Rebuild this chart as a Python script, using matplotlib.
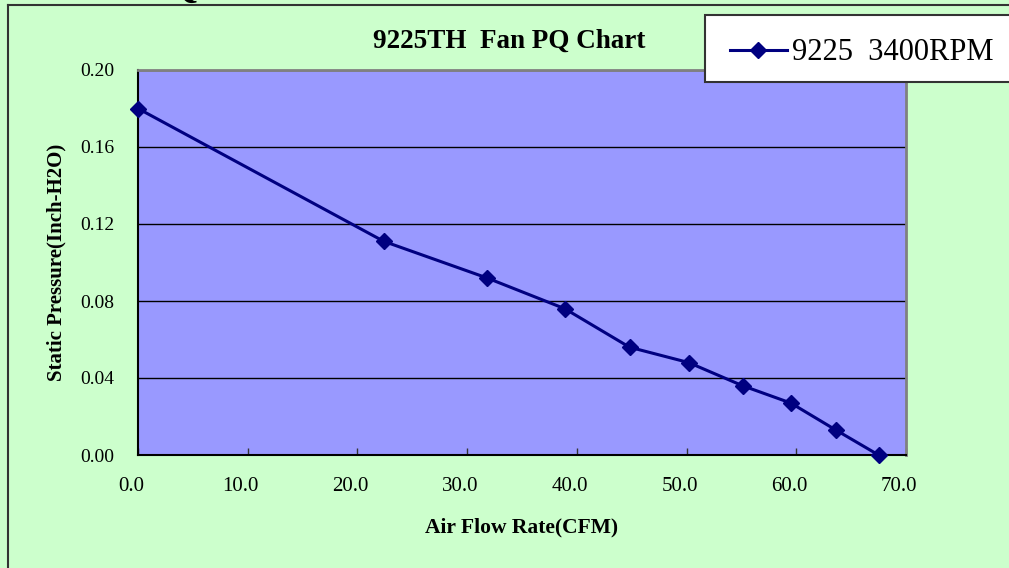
import matplotlib
matplotlib.use('Agg')
import matplotlib.pyplot as plt
import matplotlib.transforms as mtransforms
from matplotlib.lines import Line2D
from matplotlib.patches import Rectangle

# data
airflow = [0.0, 22.4, 31.8, 38.9, 44.8, 50.2, 55.1, 59.5, 63.6, 67.5]
pressure = [0.180, 0.111, 0.092, 0.076, 0.056, 0.048, 0.036, 0.027, 0.013, 0.000]
series_name = "9225  3400RPM"
title = "9225TH  Fan PQ Chart"
x_ticks = [0, 10, 20, 30, 40, 50, 60, 70]
y_ticks = [0.00, 0.04, 0.08, 0.12, 0.16, 0.20]

W, H = 1009, 568
fig = plt.figure(figsize=(W / 100, H / 100), dpi=100)
fig.patch.set_facecolor('#CCFFCC')
serif = 'Liberation Serif'

# plot area in pixel layout
left, right, top, bottom = 138, 906, 70, 455
ax = fig.add_axes([left / W, 1 - bottom / H, (right - left) / W, (bottom - top) / H])
ax.set_facecolor('#9999FF')
ax.set_xlim(0, 70)
ax.set_ylim(0, 0.2)

ax.plot(airflow, pressure, color='#000080', lw=2.2, marker='D', ms=8.5,
        markerfacecolor='#000080', markeredgecolor='#000080', clip_on=False, zorder=3)

ax.set_yticks(y_ticks)
ax.set_xticks(x_ticks)
ax.set_yticklabels([f"{v:.2f}" for v in y_ticks], fontfamily=serif, fontsize=14)
ax.set_xticklabels([f"{v:.1f}" for v in x_ticks], fontfamily=serif, fontsize=15)
ax.tick_params(axis='x', direction='in', length=5, width=1, pad=16, color='#333333')
ax.tick_params(axis='y', direction='in', length=0, pad=17)
offset = mtransforms.ScaledTranslation(-0.07, 0, fig.dpi_scale_trans)
for lbl in ax.get_xticklabels():
    lbl.set_transform(lbl.get_transform() + offset)

ax.grid(axis='y', color='black', lw=1)
ax.set_axisbelow(True)
for side in ['left', 'bottom']:
    ax.spines[side].set_color('black')
    ax.spines[side].set_linewidth(1.5)
for side in ['top', 'right']:
    ax.spines[side].set_color('#808080')
    ax.spines[side].set_linewidth(2)

ax.set_xlabel("Air Flow Rate(CFM)", fontfamily=serif, fontweight='bold', fontsize=15.5)
ax.xaxis.set_label_coords(0.5, -0.163)
ax.set_ylabel("Static Pressure(Inch-H2O)", fontfamily=serif, fontweight='bold', fontsize=15)
ax.yaxis.set_label_coords(-0.093, 0.5)

fig.text(509 / W, 1 - 41 / H, title, ha='center', va='center',
         fontfamily=serif, fontweight='bold', fontsize=19.5)

# outer chart border (cut by the image edges)
fig.add_artist(Line2D([8 / W, 8 / W], [0, 1 - 5 / H], transform=fig.transFigure,
                      color='#333333', lw=1.5))
fig.add_artist(Line2D([8 / W, 1], [1 - 5 / H, 1 - 5 / H], transform=fig.transFigure,
                      color='#333333', lw=1.5))

# piece of a heading above the chart
fig.text(182 / W, 1 + 3 / H, "Q", ha='center', va='baseline',
         fontfamily=serif, fontweight='bold', fontsize=30)

# legend box, running off the right edge
fig.add_artist(Rectangle((705 / W, 1 - 82 / H), 0.5, 67 / H, transform=fig.transFigure,
                         facecolor='white', edgecolor='#333333', lw=1.5, clip_on=False))
fig.add_artist(Line2D([730 / W, 758 / W, 787 / W], [1 - 50 / H] * 3, transform=fig.transFigure,
                      color='#000080', lw=2.2, marker='D', ms=8.5, markevery=[1]))
fig.text(792 / W, 1 - 52 / H, series_name, ha='left', va='center',
         fontfamily=serif, fontsize=22)

fig.savefig("out.png", dpi=100, facecolor=fig.get_facecolor())
